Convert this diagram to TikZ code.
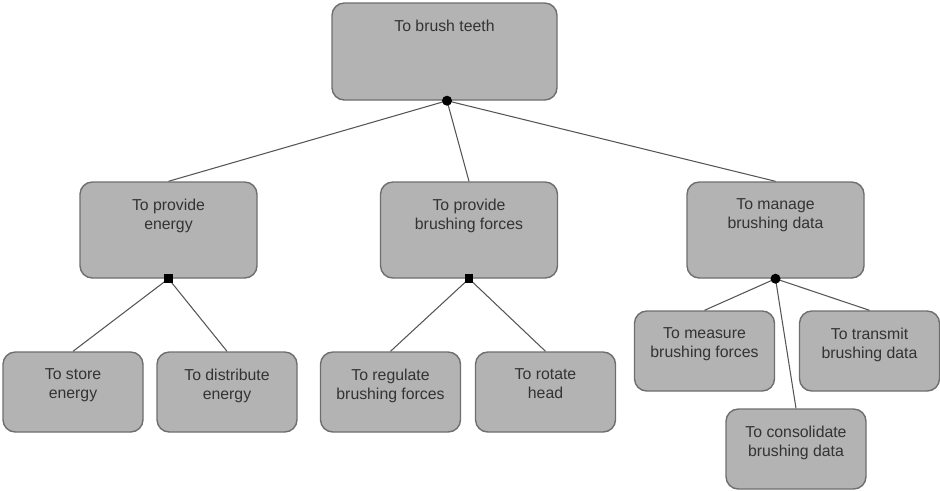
\documentclass[tikz,border=0pt]{standalone}
\usepackage{fontspec}
\setmainfont{Liberation Sans}
\usetikzlibrary{positioning}
\definecolor{boxfill}{HTML}{B3B3B3}
\definecolor{boxline}{HTML}{6E6E6E}
\definecolor{wire}{HTML}{555555}
\definecolor{txt}{HTML}{333333}

\begin{document}
\begin{tikzpicture}[
  fnbox/.style={draw=boxline, fill=boxfill, line width=0.8pt, rounded corners=7pt},
  fnlabel/.style={anchor=north, yshift=-0.34cm, inner sep=0pt, align=center,
    text=txt, font=\fontsize{9}{10.8}\selectfont},
  toplevel/.style={fnbox, minimum width=4.5cm, minimum height=1.94cm},
  midlevel/.style={fnbox, minimum width=3.54cm, minimum height=1.92cm},
  lowlevel/.style={fnbox, minimum width=2.8cm, minimum height=1.6cm},
  andjoin/.style={circle, fill=black, inner sep=0pt, minimum size=0.2cm},
  orjoin/.style={rectangle, fill=black, inner sep=0pt, minimum size=0.17cm},
  wireline/.style={draw=wire, line width=0.6pt},
]

% frame
\useasboundingbox (0,0) rectangle (18.8,-9.8);

% Top function
\node[toplevel, label={[fnlabel]above:To brush teeth}] (root) at (8.89,-1.03) {};

% Second level
\node[midlevel, label={[fnlabel]above:{To provide\\energy}}] (energy) at (3.37,-4.6) {};
\node[midlevel, label={[fnlabel]above:{To provide\\brushing forces}}] (forces) at (9.38,-4.6) {};
\node[midlevel, label={[fnlabel]above:{To manage\\brushing data}}] (data) at (15.51,-4.6) {};

% Third level
\node[lowlevel, label={[fnlabel]above:{To store\\energy}}] (store) at (1.46,-7.84) {};
\node[lowlevel, label={[fnlabel]above:{To distribute\\energy}}] (distribute) at (4.54,-7.84) {};
\node[lowlevel, label={[fnlabel]above:{To regulate\\brushing forces}}] (regulate) at (7.81,-7.84) {};
\node[lowlevel, label={[fnlabel]above:{To rotate\\head}}] (rotate) at (10.91,-7.84) {};
\node[lowlevel, label={[fnlabel]above:{To measure\\brushing forces}}] (measure) at (14.09,-7.02) {};
\node[lowlevel, label={[fnlabel]above:{To transmit\\brushing data}}] (transmit) at (17.39,-7.02) {};
\node[lowlevel, label={[fnlabel]above:{To consolidate\\brushing data}}] (consolidate) at (15.92,-8.98) {};

% Junctions
\coordinate (j0) at ([xshift=0.05cm]root.south);
\coordinate (j1) at (energy.south);
\coordinate (j2) at (forces.south);
\coordinate (j3) at (data.south);

% Connectors
\draw[wireline] (j0) -- (energy.north);
\draw[wireline] (j0) -- (forces.north);
\draw[wireline] (j0) -- (data.north);
\draw[wireline] (j1) -- (store.north);
\draw[wireline] (j1) -- (distribute.north);
\draw[wireline] (j2) -- (regulate.north);
\draw[wireline] (j2) -- (rotate.north);
\draw[wireline] (j3) -- (measure.north);
\draw[wireline] (j3) -- (transmit.north);
\draw[wireline] (j3) -- (consolidate.north);

% Junction marks
\node[andjoin] (d0) at (j0) {};
\node[orjoin] (d1) at (j1) {};
\node[orjoin] (d2) at (j2) {};
\node[andjoin] (d3) at (j3) {};

\end{tikzpicture}
\end{document}
